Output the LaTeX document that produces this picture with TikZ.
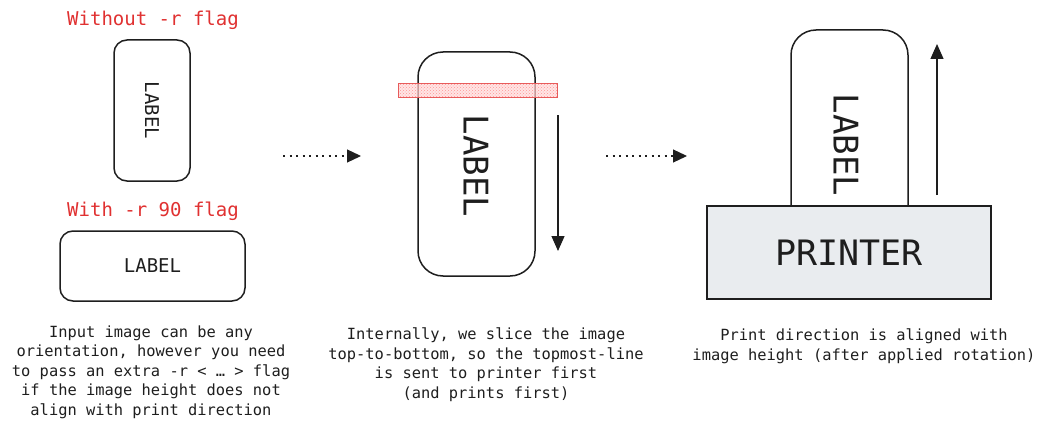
\documentclass[tikz,border=0pt]{standalone}
\usepackage{fontspec}
\setmainfont{DejaVu Sans Mono}
\usetikzlibrary{arrows.meta,patterns}
\definecolor{inkred}{HTML}{E03131}
\definecolor{ink}{HTML}{1E1E1E}
\definecolor{printergray}{HTML}{E9ECEF}
\tikzstyle{flag} = [text=inkred, inner sep=0pt, font=\fontsize{19}{22}\selectfont]
\tikzstyle{paper} = [rectangle, draw=ink, line width=1.5pt, rounded corners=13pt, fill=white]
\tikzstyle{bigpaper} = [rectangle, draw=ink, line width=1.5pt, rounded corners=25pt, fill=white]
\tikzstyle{note} = [text=ink, inner sep=0pt, align=center, font=\fontsize{15.4}{19.5}\selectfont]
\tikzstyle{line} = [draw=ink, line width=1.3pt, -{Triangle[length=15pt,width=13pt]}]
\tikzstyle{dotline} = [draw=ink, line width=1.2pt, dash pattern=on 2pt off 4.5pt, -{Triangle[length=14pt,width=13pt]}]

\begin{document}
\begin{tikzpicture}[x=1pt,y=-1pt]
    \useasboundingbox (0,0) rectangle (1038,428);

    % left: input
    \node[flag] at (153,20) (noflag) {Without -r flag};
    \node[paper, minimum width=76pt, minimum height=141pt] at (152,110.5) (tall) {};
    \node[rotate=-90, text=ink, font=\fontsize{19}{22}\selectfont] at (tall.center) {LABEL};
    \node[flag] at (153,211) (withflag) {With -r 90 flag};
    \node[paper, minimum width=185pt, minimum height=70pt, text=ink, font=\fontsize{19}{22}\selectfont] at (152.5,266) (wide) {LABEL};
    \node[note] at (151,372) (notein) {Input image can be any\\orientation, however you need\\to pass an extra -r < … > flag\\if the image height does not\\align with print direction};

    % middle: slicing
    \node[bigpaper, minimum width=117pt, minimum height=224pt] at (476.5,164) (slice) {};
    \node[rotate=-90, text=ink, font=\fontsize{34}{38}\selectfont] at (476,166) {LABEL};
    \node[rectangle, draw=inkred!80, line width=1pt, minimum width=159pt, minimum height=14pt, fill=red!14, fill opacity=0.7,
          postaction={pattern=crosshatch dots, pattern color=red!55}] at (477.5,90) (stripe) {};
    \node[note] at (486,364.5) (noteslice) {Internally, we slice the image\\top-to-bottom, so the topmost-line\\is sent to printer first\\(and prints first)};

    % right: printer
    \node[bigpaper, minimum width=117pt, minimum height=210pt] at (849.5,135) (fed) {};
    \node[rotate=-90, text=ink, font=\fontsize{34}{38}\selectfont] at (846,145) (fedtext) {LABEL};
    \node[rectangle, draw=ink, line width=1.5pt, fill=printergray, minimum width=284pt, minimum height=93pt,
          text=ink, font=\fontsize{35}{40}\selectfont] at (849,252.5) (printer) {PRINTER};
    \node[note] at (864,346.5) (noteprint) {Print direction is aligned with\\image height (after applied rotation)};

    % arrows
    \coordinate (a1s) at (283,156);
    \coordinate (a1e) at (361,156);
    \coordinate (a2s) at (606,156);
    \coordinate (a2e) at (687,156);
    \coordinate (downs) at (558,115);
    \coordinate (downe) at (558,251);
    \coordinate (ups) at (937,195);
    \coordinate (upe) at (937,44);
    \draw[dotline] (a1s) -- (a1e);
    \draw[dotline] (a2s) -- (a2e);
    \draw[line] (downs) -- (downe);
    \draw[line] (ups) -- (upe);
\end{tikzpicture}
\end{document}
